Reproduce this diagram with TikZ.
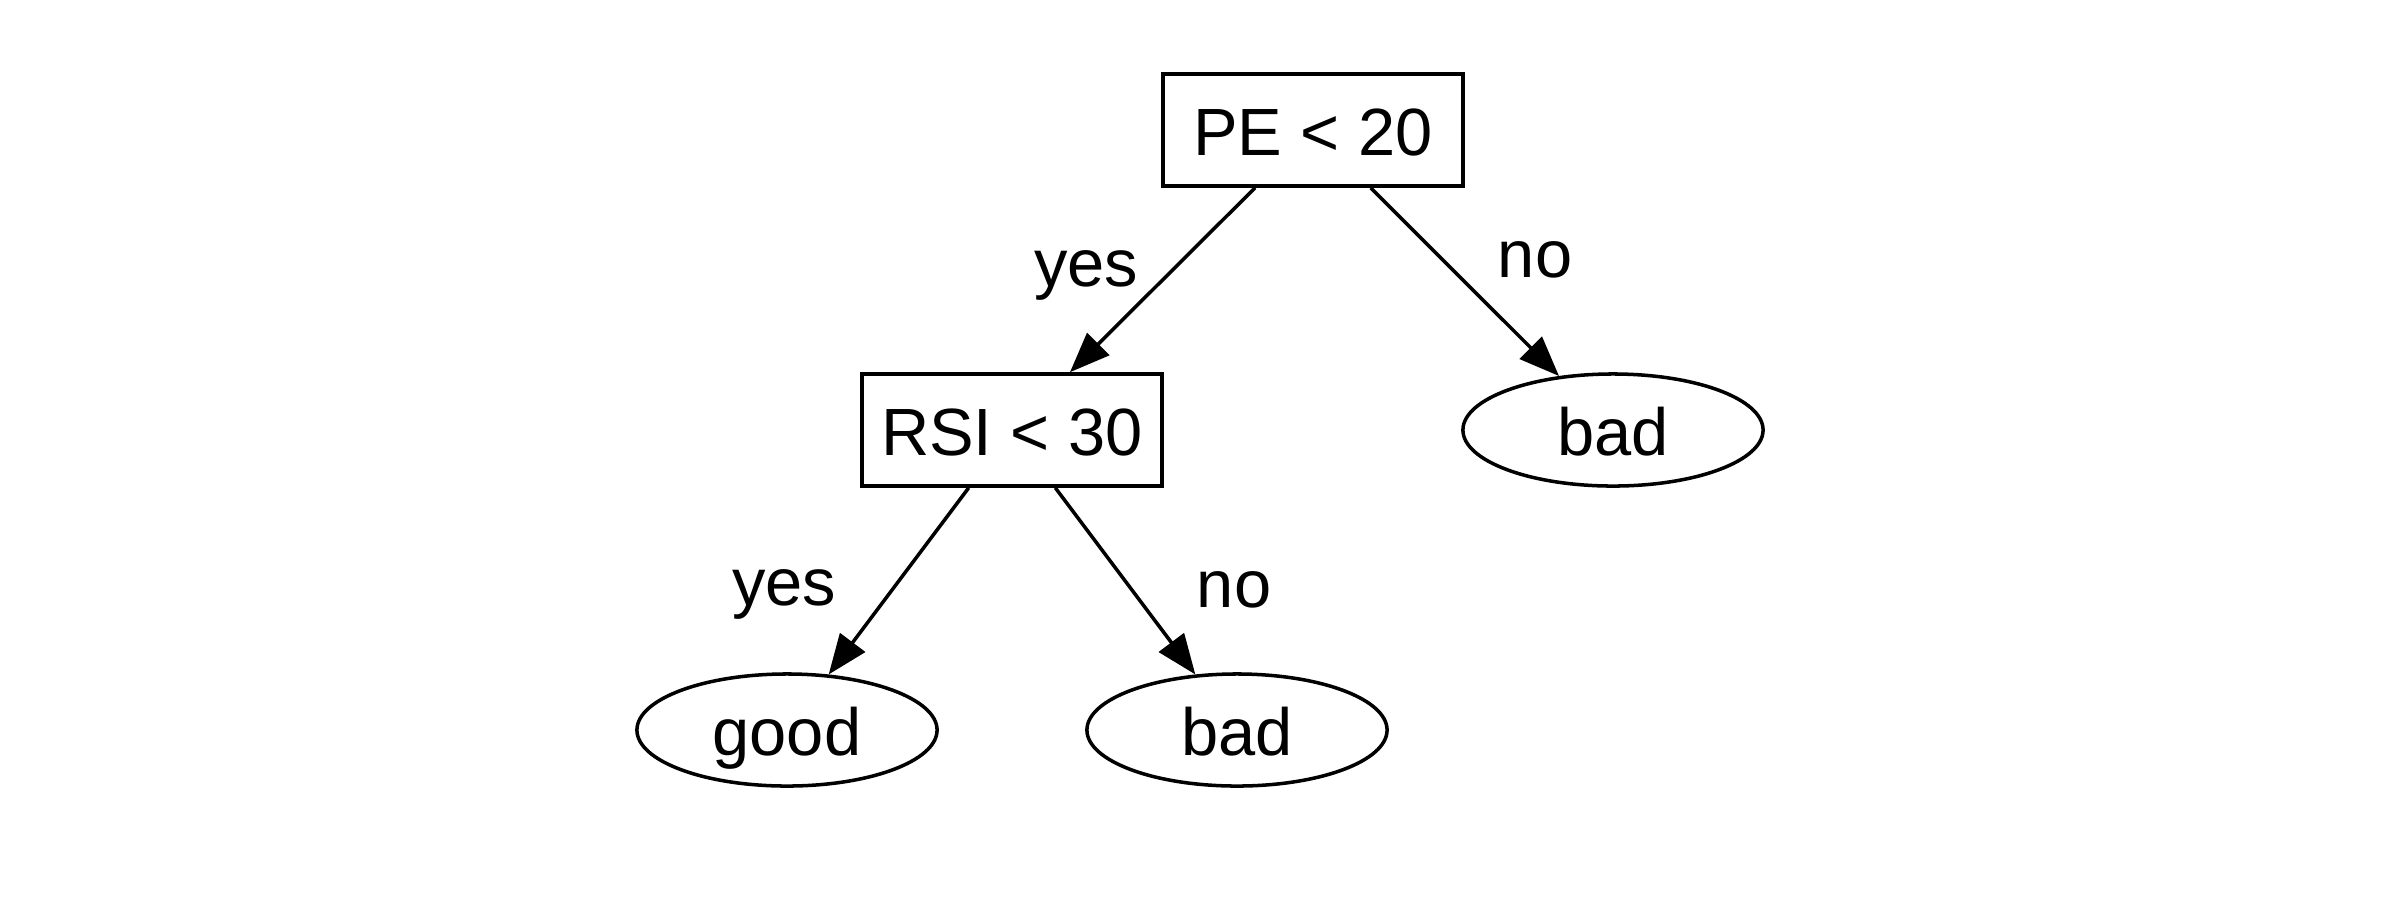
\documentclass[tikz,border=0pt]{standalone}
\usepackage{fontspec}
\setmainfont{Liberation Sans}
\usetikzlibrary{arrows.meta,shapes.geometric}

\begin{document}
\begin{tikzpicture}[x=0.01cm,y=-0.01cm,
        every node/.style={font=\fontsize{19}{23}\selectfont},
        test/.style={draw,rectangle,line width=1pt,minimum width=3.0cm,minimum height=1.12cm,inner sep=0pt,text height=0.5cm,text depth=0cm},
        leaf/.style={draw,ellipse,line width=1pt,minimum width=3.0cm,minimum height=1.12cm,inner sep=0pt,text height=0.5cm,text depth=0cm},
        branch/.style={line width=1pt,-{Triangle[length=0.4cm,width=0.31cm]}},
        answer/.style={anchor=base,inner sep=0pt}]
        \useasboundingbox (0,0) rectangle (2399,899);
        % splits
        \node[test] (pe) at (1313,130) {PE < 20};
        \node[test] (rsi) at (1012,430) {RSI < 30};
        % leaves
        \node[leaf] (bad1) at (1613,430) {bad};
        \node[leaf] (good) at (787,730) {good};
        \node[leaf] (bad2) at (1237,730) {bad};
        % branches
        \draw[branch] (pe) -- (rsi);
        \draw[branch] (pe) -- (bad1);
        \draw[branch] (rsi) -- (good);
        \draw[branch] (rsi) -- (bad2);
        \node[answer] (yes1) at (1086,286) {yes};
        \node[answer] (no1) at (1535,277) {no};
        \node[answer] (yes2) at (784,605) {yes};
        \node[answer] (no2) at (1234,607) {no};
      \end{tikzpicture}
\end{document}
